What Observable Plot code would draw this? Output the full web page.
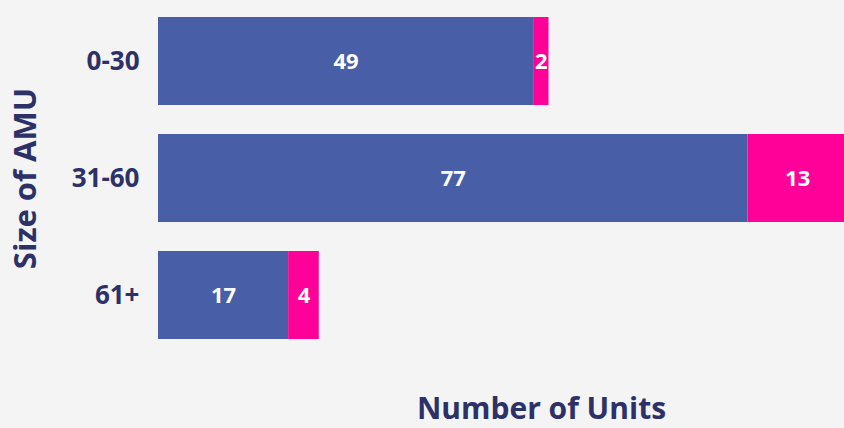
<!DOCTYPE html>
<html>
<head>
<meta charset="utf-8">
<script src="https://cdn.jsdelivr.net/npm/d3@7"></script>
<script src="https://cdn.jsdelivr.net/npm/@observablehq/plot@0.6"></script>
<style>
  html, body { margin: 0; padding: 0; background: #f4f4f4; }
  #chart svg { display: block; }
</style>
</head>
<body>
<div id="chart"></div>
<script>
const sizes = ["0-30", "31-60", "61+"];
const seriesNames = ["Group A", "Group B"];
const seriesA = [49, 77, 17];
const seriesB = [2, 13, 4];
const xTitle = "Number of Units";
const yTitle = "Size of AMU";

const data = [];
sizes.forEach((s, i) => {
  data.push({size: s, series: seriesNames[0], value: seriesA[i]});
  data.push({size: s, series: seriesNames[1], value: seriesB[i]});
});

const navy = "#2d3168";
const chart = Plot.plot({
  width: 844,
  height: 428,
  marginLeft: 158,
  marginRight: 0,
  marginTop: 17,
  marginBottom: 89,
  style: {background: "#f4f4f4", fontFamily: "'Open Sans', sans-serif"},
  x: {domain: [0, 89.6], axis: null},
  y: {domain: sizes, paddingInner: 0.248, paddingOuter: 0, axis: null},
  color: {domain: seriesNames, range: ["#485ea7", "#ff0099"]},
  marks: [
    Plot.barX(data, Plot.stackX({x: "value", y: "size", fill: "series", order: seriesNames})),
    Plot.text(data, Plot.stackX({x: "value", y: "size", z: "series", order: seriesNames, text: d => String(d.value),
      fill: "white", fontSize: 22, fontWeight: "bold"})),
    Plot.axisY({tickSize: 0, tickPadding: 19, fontSize: 26, fontWeight: "bold", fill: navy, label: null}),
    Plot.text([yTitle], {frameAnchor: "left", textAnchor: "middle", lineAnchor: "middle", dx: -132, rotate: -90, fontSize: 31, fontWeight: "bold", fill: navy}),
    Plot.text([xTitle], {frameAnchor: "bottom", textAnchor: "middle", lineAnchor: "middle", dx: 40, dy: 70, fontSize: 30, fontWeight: "bold", fill: navy})
  ]
});
document.getElementById("chart").append(chart);
</script>
</body>
</html>
